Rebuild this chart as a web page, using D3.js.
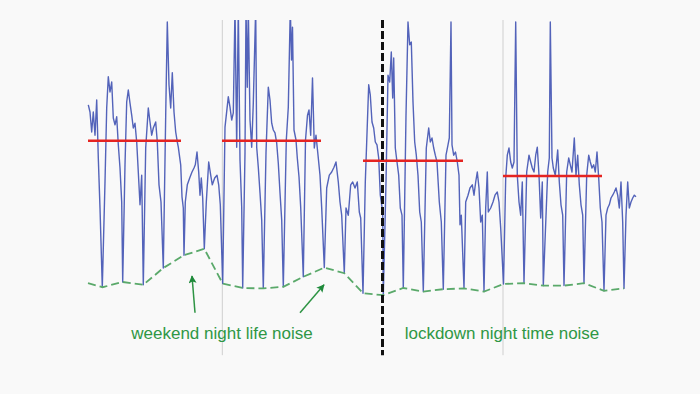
<!DOCTYPE html>
<html>
<head>
<meta charset="utf-8">
<script src="https://cdn.jsdelivr.net/npm/d3@7"></script>
<style>
  html, body { margin: 0; padding: 0; background: #f9f9f9; }
  svg { display: block; }
</style>
</head>
<body>
<svg id="chart"></svg>
<script>
const width = 700, height = 394

// noise level time series: [day, level]
const noise = [
  [0.015,78.8],[0.1,77],[0.185,72],[0.265,77],[0.35,71.2],[0.435,80],[0.515,65.5],[0.6,53],[0.715,33.2],
  [0.85,59.5],[0.935,78],[1.015,85.8],[1.1,82],[1.185,84.5],[1.265,75.5],[1.35,73.8],[1.435,75.8],[1.515,68.8],[1.6,63],[1.685,54.5],[1.735,34.5],
  [1.85,63.8],[1.935,79.5],[2.015,82.5],[2.1,79.2],[2.185,76.2],[2.265,73],[2.35,74.2],[2.435,69.5],[2.515,62],[2.6,53.8],[2.685,61.2],[2.765,33.8],
  [2.885,68],[3.015,78],[3.1,74.5],[3.185,71.2],[3.265,73],[3.385,74.5],[3.465,69.5],[3.55,58.8],[3.65,54.5],[3.765,38],
  [3.885,76.2],[3.965,99.5],[4.05,83.8],[4.135,78],[4.215,86.8],[4.3,77],[4.385,72],[4.465,69.5],[4.515,68.2],[4.635,63.8],[4.7,55.8],[4.765,53],[4.8,41.2],
  [4.865,54.5],[4.965,58.8],[5.085,60.5],[5.2,62],[5.3,63],[5.365,63.8],[5.45,67],[5.535,62],[5.6,56.2],[5.665,60.5],[5.735,55.5],[5.815,42.8],
  [5.915,54.5],[6.035,64.5],[6.135,61.2],[6.215,58.8],[6.335,60.5],[6.45,61.2],[6.535,58.8],[6.615,53.8],[6.735,34.1],
  [6.85,73.2],[7.015,80.8],[7.1,78.2],[7.185,75],[7.265,76.8],[7.35,103],[7.435,68.2],[7.515,103],[7.6,65],[7.685,53.2],[7.735,33],
  [7.85,66.8],[7.9,103],[7.965,83.2],[8.015,103],[8.1,75],[8.185,68.2],[8.265,79.2],[8.385,103],[8.435,68.2],[8.515,63.2],[8.6,56.8],[8.685,50],[8.765,32.9],
  [8.9,66.8],[9.015,83.2],[9.1,80],[9.185,74.2],[9.265,72.5],[9.35,71.8],[9.435,69.2],[9.515,64.2],[9.6,56.8],[9.685,50],[9.765,33.3],
  [9.915,70],[10.015,78.2],[10.115,103],[10.175,90],[10.225,98.2],[10.3,72.5],[10.4,70],[10.465,65.5],[10.55,60.8],[10.635,53.2],[10.765,35.8],
  [10.875,70],[10.975,76.2],[11.05,77.5],[11.135,71.2],[11.225,85.5],[11.315,68],[11.4,71.2],[11.485,67],[11.6,61.2],[11.685,53],[11.815,38.1],
  [11.935,58],[12.065,61.2],[12.185,62],[12.3,63.2],[12.4,64.5],[12.515,59.5],[12.6,54.5],[12.685,51.2],[12.815,36.7],
  [12.9,53],[13.015,51.2],[13.135,58.8],[13.235,59.5],[13.35,58],[13.465,59.5],[13.565,52],[13.635,50.5],[13.75,31.7],
  [13.865,59.5],[14.035,83.8],[14.115,81.2],[14.2,74.5],[14.285,73],[14.365,69.5],[14.45,68.8],[14.535,65.5],[14.615,56.2],[14.735,52],[14.765,31.2],
  [14.9,59.5],[15,86.2],[15.085,84.5],[15.165,92],[15.235,80.5],[15.285,90.5],[15.365,68],[15.45,64.5],[15.535,61.2],[15.615,53],[15.7,51.2],[15.765,33],
  [15.9,76.2],[16,99.5],[16.085,93.8],[16.165,94.5],[16.25,79.5],[16.335,69.5],[16.415,66.2],[16.5,61.2],[16.585,52],[16.665,49.5],[16.765,32.1],
  [16.915,68],[17.035,73],[17.115,69.5],[17.2,70.5],[17.285,68],[17.365,66.2],[17.45,64.5],[17.565,54.5],[17.665,49.5],[17.765,32.7],
  [17.9,66.2],[18,68.8],[18.065,70.5],[18.15,99.5],[18.2,68.8],[18.285,66.2],[18.375,67],[18.465,64.5],[18.55,61.2],[18.6,48.8],[18.665,51.2],[18.8,32.9],
  [18.885,54.5],[19,56.2],[19.1,58],[19.215,58.8],[19.3,56.2],[19.385,59.5],[19.465,62],[19.55,58],[19.635,49.5],[19.715,51.2],[19.8,32.1],
  [19.885,53],[19.965,62],[20.015,52],[20.135,53],[20.25,54.5],[20.35,56.2],[20.465,57],[20.55,54.5],[20.635,48],[20.775,34],
  [20.885,60.5],[20.965,66.2],[21.05,68],[21.135,64.5],[21.215,63],[21.3,64.5],[21.385,99.5],[21.465,61.2],[21.55,54.5],[21.635,51.2],[21.715,59.5],[21.8,34.2],
  [21.935,62],[22.05,66.2],[22.135,64.5],[22.215,63],[22.3,62],[22.385,66.2],[22.465,68.2],[22.55,61.2],[22.635,50.5],[22.715,59.5],[22.765,33.6],
  [22.985,62],[23.065,65.5],[23.115,99.5],[23.2,65.5],[23.265,63],[23.365,61.2],[23.485,67.5],[23.565,59.5],[23.65,53.8],[23.735,51.2],[23.8,33.6],
  [23.935,62],[24.035,65.5],[24.115,63.8],[24.2,62],[24.315,70.5],[24.4,61.2],[24.485,66.2],[24.565,58.8],[24.65,53.8],[24.735,51.2],[24.8,34.2],
  [24.935,61.2],[25.035,66.2],[25.115,64.5],[25.2,63],[25.285,63.8],[25.365,62],[25.45,67],[25.535,60.5],[25.615,53],[25.7,49.5],[25.8,32.3],
  [25.9,51.2],[25.985,53],[26.065,53.8],[26.15,55.5],[26.235,56.2],[26.315,57],[26.4,58],[26.485,56.2],[26.565,53],[26.65,59.5],[26.735,49.5],[26.8,32.9],
  [26.9,51.2],[26.985,59.5],[27.065,53],[27.15,54.5],[27.235,55.5],[27.315,56.2],[27.4,55.8]
]

// night time floor (daily minima): [day, level]
const nightFloor = [
  [0,34.2],[0.735,33.2],[1.735,34.5],[2.765,33.8],[3.765,38],[4.8,41.2],[5.815,42.8],
  [6.735,34.1],[7.735,33],[8.765,32.9],[9.765,33.3],[10.765,35.8],[11.815,38.1],[12.815,36.7],
  [13.75,31.7],[14.765,31.2],[15.765,33],[16.765,32.1],[17.765,32.7],[18.8,32.9],[19.8,32.1],
  [20.775,34],[21.8,34.2],[22.765,33.6],[23.8,33.6],[24.8,34.2],[25.8,32.3],[26.8,32.9]
]

// weekday mean level: [start day, end day, level]
const weekdayMeans = [
  [0, 4.65, 69.8],
  [6.7, 11.65, 69.8],
  [13.75, 18.75, 64.8],
  [20.75, 25.7, 61]
]

const weekLines = [6.715, 20.75]
const lockdownDay = 14.725

const labels = [
  {text: 'weekend night life noise', day: 6.7, level: 20.2},
  {text: 'lockdown night time noise', day: 20.7, level: 20.2}
]
const arrows = [
  {from: [5.35, 26.8], to: [5.2, 36]},
  {from: [10.6, 26.8], to: [11.8, 33.8]}
]

const x = d3.scaleLinear().domain([0, 28]).range([88, 648])
const y = d3.scaleLinear().domain([30, 100]).range([300, 20])

const svg = d3.select('#chart').attr('width', width).attr('height', height)

svg.append('rect').attr('width', width).attr('height', height).attr('fill', '#f9f9f9')

svg.append('defs').append('clipPath').attr('id', 'plot')
  .append('rect').attr('x', 0).attr('y', y(100)).attr('width', width).attr('height', height)

svg.append('marker')
  .attr('id', 'head').attr('viewBox', '0 0 10 10')
  .attr('refX', 9).attr('refY', 5)
  .attr('markerWidth', 11).attr('markerHeight', 8)
  .attr('markerUnits', 'userSpaceOnUse')
  .attr('orient', 'auto')
  .append('path').attr('d', 'M0,0 L10,5 L0,10 L2,5 Z').attr('fill', '#1f8a3b')

// week separators
svg.selectAll('.week')
  .data(weekLines)
  .join('line')
  .attr('x1', d => x(d)).attr('x2', d => x(d))
  .attr('y1', y(100)).attr('y2', y(16.2))
  .attr('stroke', '#cfcfcf')
  .attr('stroke-width', 1)

const line = d3.line().x(d => x(d[0])).y(d => y(d[1]))

svg.append('path')
  .datum(noise)
  .attr('clip-path', 'url(#plot)')
  .attr('d', line)
  .attr('fill', 'none')
  .attr('stroke', '#4052b2')
  .attr('stroke-width', 1.4)
  .attr('stroke-opacity', 0.9)
  .attr('stroke-linejoin', 'round')

svg.append('path')
  .datum(nightFloor)
  .attr('d', line)
  .attr('fill', 'none')
  .attr('stroke', '#5aa96a')
  .attr('stroke-width', 1.8)
  .attr('stroke-dasharray', '8,4')

svg.selectAll('.mean')
  .data(weekdayMeans)
  .join('line')
  .attr('x1', d => x(d[0])).attr('x2', d => x(d[1]))
  .attr('y1', d => y(d[2])).attr('y2', d => y(d[2]))
  .attr('stroke', '#e52421')
  .attr('stroke-width', 2.5)

// lockdown start
svg.append('line')
  .attr('x1', x(lockdownDay)).attr('x2', x(lockdownDay))
  .attr('y1', y(100)).attr('y2', y(16.2))
  .attr('stroke', '#111')
  .attr('stroke-width', 3)
  .attr('stroke-dasharray', '8,3')

svg.selectAll('.arrow')
  .data(arrows)
  .join('line')
  .attr('x1', d => x(d.from[0])).attr('y1', d => y(d.from[1]))
  .attr('x2', d => x(d.to[0])).attr('y2', d => y(d.to[1]))
  .attr('stroke', '#2e9444')
  .attr('stroke-width', 1.5)
  .attr('marker-end', 'url(#head)')

svg.selectAll('.label')
  .data(labels)
  .join('text')
  .attr('x', d => x(d.day)).attr('y', d => y(d.level))
  .attr('text-anchor', 'middle')
  .attr('font-family', 'Liberation Sans, Arial, sans-serif')
  .attr('font-size', 17)
  .attr('fill', '#2f9745')
  .text(d => d.text)
</script>
</body>
</html>
